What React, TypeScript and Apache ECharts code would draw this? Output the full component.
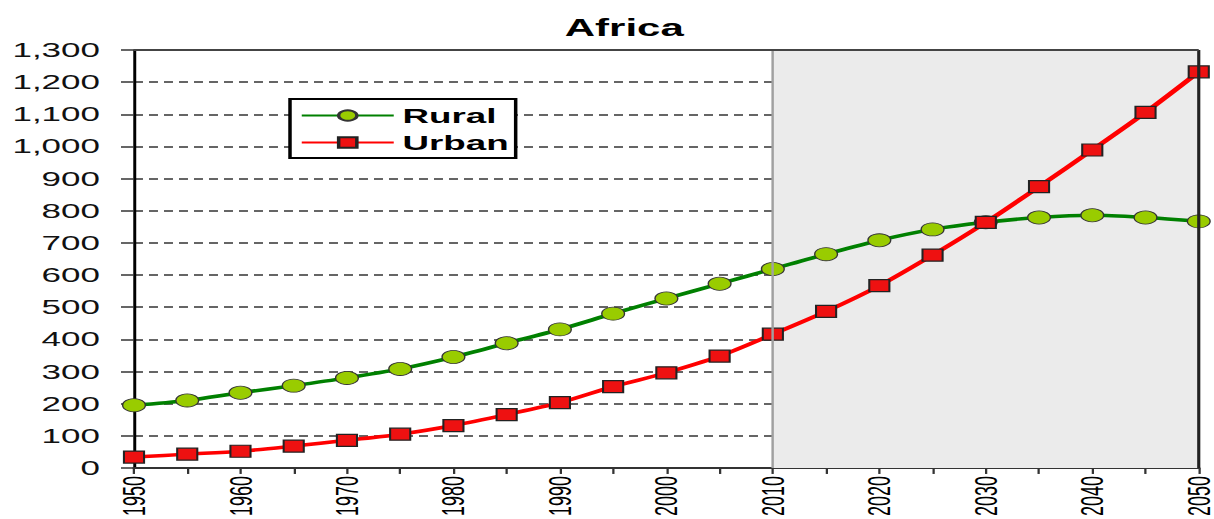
import React, { useEffect, useRef } from "react";
import * as echarts from "echarts";

const years = ["1950","1955","1960","1965","1970","1975","1980","1985","1990","1995","2000","2005","2010","2015","2020","2025","2030","2035","2040","2045","2050"];
const rural = [195,210,234,256,280,308,345,388,431,480,527,573,619,665,708,742,764,779,786,779,767];
const urban = [34,43,52,68,86,105,132,166,203,253,296,348,416,487,567,662,764,875,989,1106,1232];
const projectionStart = "2010";
const projectionEnd = "2050";

// The reference image is stretched horizontally; draw narrower and stretch.
const STRETCH = 1.75;
const W = 1214;
const H = 519;

export default function App() {
  const ref = useRef<HTMLDivElement>(null);
  useEffect(() => {
    const chart = echarts.init(ref.current!, null, { renderer: "svg" });
    const font = "'Liberation Sans', Arial, sans-serif";
    const sx = (px: number) => px / STRETCH;
    chart.setOption({
      animation: false,
      backgroundColor: "#ffffff",
      title: {
        text: "Africa",
        left: sx(556),
        top: 11,
        textStyle: { fontFamily: font, fontWeight: "bold", fontSize: 24, color: "#000" },
      },
      legend: {
        left: sx(290),
        top: 99,
        orient: "vertical",
        data: ["Rural", "Urban"],
        itemWidth: sx(92),
        itemHeight: 13,
        itemGap: 6,
        padding: [6, 4, 5, sx(10)],
        borderColor: "#000",
        borderWidth: 2,
        backgroundColor: "#fff",
        textStyle: { fontFamily: font, fontWeight: "bold", fontSize: 21, color: "#000" },
      },
      grid: { left: sx(134), right: sx(11), top: 50, bottom: 47, containLabel: false },
      xAxis: {
        type: "category",
        data: years,
        boundaryGap: false,
        axisLine: { lineStyle: { color: "#333", width: 2 } },
        axisTick: { alignWithLabel: true, interval: 0, length: 6, lineStyle: { color: "#333", width: 1.3 } },
        axisLabel: {
          interval: 1,
          rotate: 90,
          fontFamily: font,
          fontSize: 18,
          color: "#000",
          margin: 8,
        },
        splitLine: { show: false },
      },
      yAxis: {
        type: "value",
        min: 0,
        max: 1300,
        interval: 100,
        axisLine: { show: true, lineStyle: { color: "#000", width: 1.7 } },
        axisTick: { show: true, length: sx(13), lineStyle: { color: "#333", width: 1.5 } },
        axisLabel: {
          fontFamily: font,
          fontSize: 20,
          color: "#111",
          margin: sx(34),
          formatter: (v: number) => v.toLocaleString("en-US"),
        },
        splitLine: { show: true, lineStyle: { color: "#333", width: 1.5, type: [sx(9), sx(6)] } },
      },
      series: [
        {
          name: "Rural",
          type: "line",
          data: rural,
          smooth: 0.3,
          symbol: "circle",
          symbolSize: 13,
          lineStyle: { color: "#008000", width: 3.5 },
          itemStyle: { color: "#99CC00", borderColor: "#333", borderWidth: 0.8 },
          z: 3,
          markArea: {
            silent: true,
            itemStyle: { color: "#EBEBEB" },
            data: [[{ xAxis: projectionStart }, { xAxis: projectionEnd }]],
          },
          markLine: {
            silent: true,
            symbol: "none",
            label: { show: false },
            data: [
              { xAxis: projectionStart, lineStyle: { color: "#A0A0A0", width: 1.4, type: "solid" } },
              { xAxis: projectionEnd, lineStyle: { color: "#222", width: 1.8, type: "solid" } },
              { yAxis: 1300, lineStyle: { color: "#444", width: 2, type: "solid" } },
            ],
          },
        },
        {
          name: "Urban",
          type: "line",
          data: urban,
          smooth: 0.3,
          symbol: "rect",
          symbolSize: [11.5, 12],
          lineStyle: { color: "#FF0000", width: 3.5 },
          itemStyle: { color: "#EE1111", borderColor: "#222", borderWidth: 1.2 },
          z: 4,
        },
      ],
    });
    return () => chart.dispose();
  }, []);
  return (
    <div style={{ position: "absolute", left: 0, top: 0, width: W, height: H, overflow: "hidden", background: "#fff" }}>
      <div
        ref={ref}
        style={{
          width: W / STRETCH,
          height: H,
          transform: `scaleX(${STRETCH})`,
          transformOrigin: "0 0",
        }}
      />
    </div>
  );
}
